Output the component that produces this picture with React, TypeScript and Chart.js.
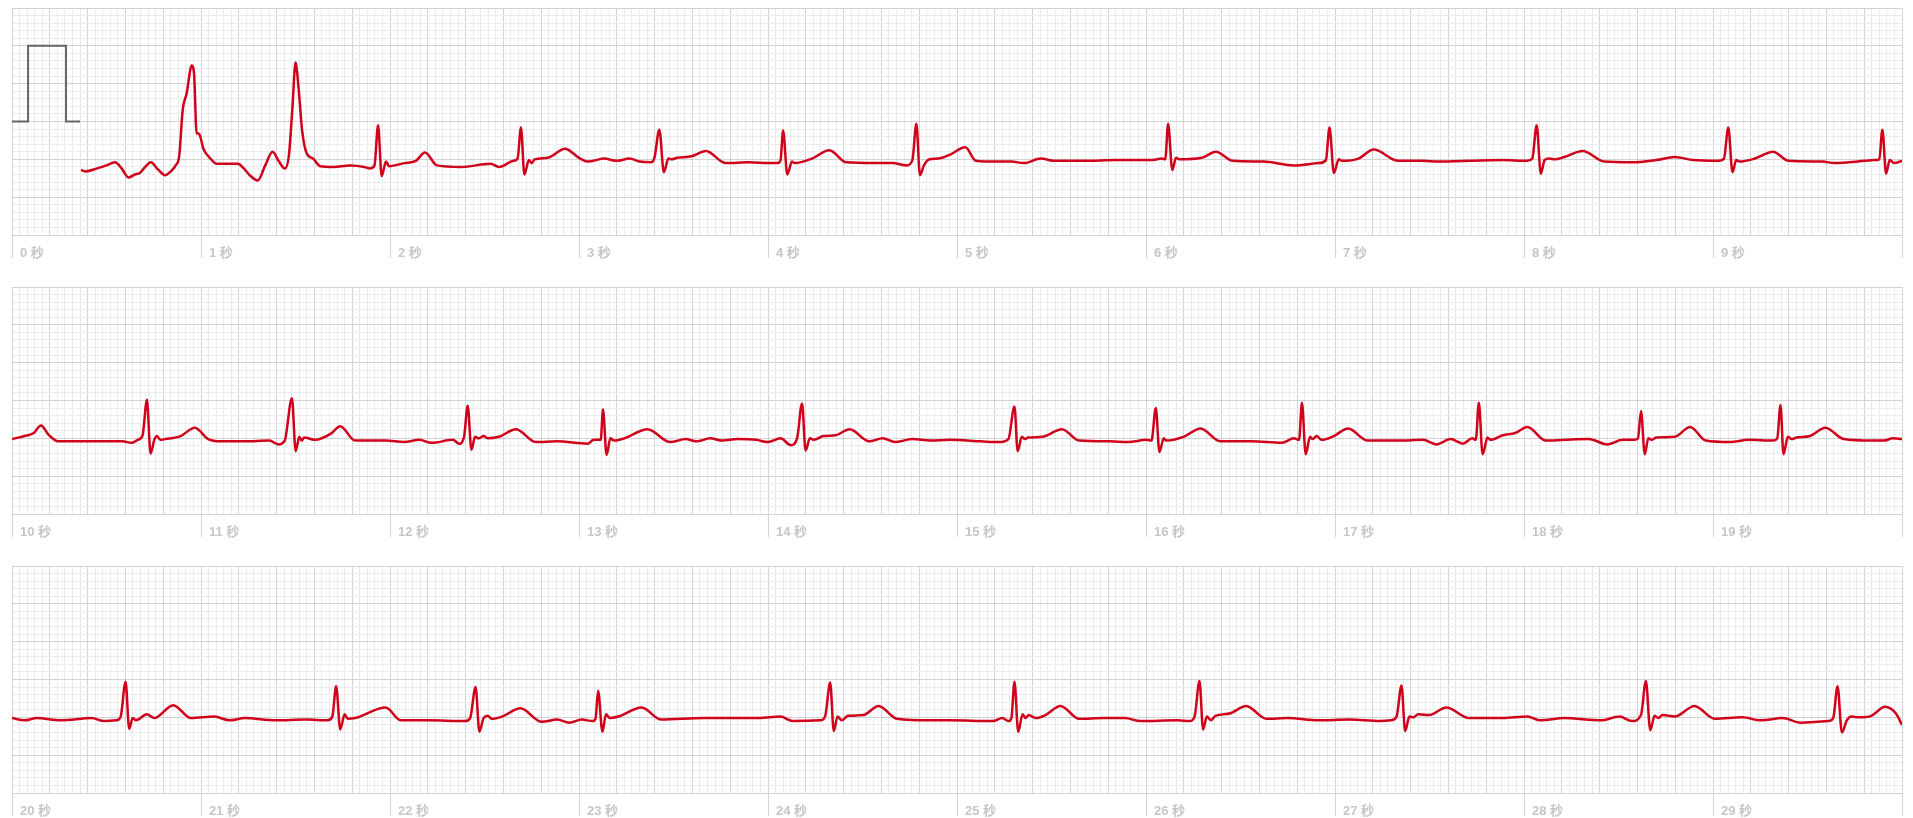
import React, { useEffect, useRef, useState } from "react";
import { Chart, registerables } from "chart.js";

Chart.register(...registerables);

// ---- data (time in seconds, amplitude in mV) ----
const secondsPerRow = 10;
const rowStarts = [0, 10, 20];

const calTime = [0, 0.085, 0.085, 0.286, 0.286, 0.36];
const calValue = [0, 0, 1, 1, 0, 0];

const row1Time = [
  0.365, 0.39, 0.45, 0.5, 0.545, 0.58, 0.616, 0.65, 0.677, 0.705, 0.734, 0.775, 0.81, 0.84, 0.866, 0.885,
  0.903, 0.924, 0.951, 0.963, 0.977, 0.988, 0.995, 1.013, 1.043, 1.085, 1.196, 1.226, 1.262, 1.3, 1.34,
  1.379, 1.41, 1.444, 1.465, 1.484, 1.5, 1.517, 1.535, 1.559, 1.593, 1.63, 1.7, 1.788, 1.864, 1.894,
  1.918, 1.937, 1.956, 1.979, 1.995, 2.076, 2.137, 2.185, 2.249, 2.377, 2.532, 2.577, 2.653, 2.675,
  2.693, 2.711, 2.735, 2.75, 2.765, 2.835, 2.926, 3.0, 3.048, 3.132, 3.2, 3.267, 3.321, 3.382, 3.4,
  3.425, 3.449, 3.473, 3.491, 3.519, 3.595, 3.671, 3.777, 3.899, 4.005, 4.05, 4.066, 4.08, 4.102, 4.127,
  4.141, 4.233, 4.324, 4.415, 4.566, 4.658, 4.734, 4.764, 4.785, 4.804, 4.825, 4.855, 4.9, 4.961,
  5.044, 5.1, 5.158, 5.288, 5.353, 5.444, 5.515, 5.678, 5.84, 6.035, 6.084, 6.102, 6.117, 6.139, 6.159,
  6.175, 6.295, 6.37, 6.458, 6.62, 6.783, 6.913, 6.952, 6.971, 6.994, 7.02, 7.036, 7.124, 7.205, 7.335,
  7.449, 7.563, 7.888, 8.018, 8.044, 8.067, 8.089, 8.109, 8.132, 8.164, 8.213, 8.31, 8.424, 8.57, 8.7,
  8.798, 8.895, 9.025, 9.058, 9.081, 9.103, 9.123, 9.139, 9.221, 9.318, 9.399, 9.578, 9.643, 9.806,
  9.854, 9.88, 9.896, 9.916, 9.935, 9.96, 10.0,
];
const row1Value = [
  -0.64, -0.66, -0.62, -0.58, -0.54, -0.62, -0.74, -0.7, -0.68, -0.6, -0.54, -0.64, -0.71, -0.66, -0.58, -0.45,
  0.15, 0.37, 0.74, 0.64, -0.16, -0.16, -0.19, -0.36, -0.47, -0.56, -0.56, -0.62, -0.72, -0.78, -0.58,
  -0.4, -0.52, -0.62, -0.45, 0.19, 0.78, 0.42, -0.12, -0.42, -0.49, -0.59, -0.6, -0.58, -0.6, -0.62,
  -0.58, -0.05, -0.72, -0.53, -0.59, -0.55, -0.52, -0.41, -0.58, -0.6, -0.56, -0.6, -0.52, -0.49,
  -0.08, -0.7, -0.51, -0.55, -0.5, -0.48, -0.36, -0.48, -0.53, -0.49, -0.52, -0.49, -0.53, -0.54, -0.47,
  -0.11, -0.67, -0.49, -0.5, -0.48, -0.46, -0.39, -0.55, -0.54, -0.55, -0.55, -0.52, -0.12, -0.7, -0.53,
  -0.55, -0.49, -0.38, -0.54, -0.55, -0.55, -0.58, -0.51, -0.03, -0.71, -0.58, -0.5, -0.49, -0.44,
  -0.34, -0.52, -0.53, -0.53, -0.55, -0.49, -0.52, -0.52, -0.51, -0.51, -0.49, -0.5, -0.03, -0.64, -0.48,
  -0.5, -0.48, -0.4, -0.52, -0.53, -0.58, -0.55, -0.51, -0.08, -0.68, -0.5, -0.52, -0.49, -0.37, -0.52,
  -0.52, -0.53, -0.51, -0.52, -0.49, -0.05, -0.69, -0.51, -0.49, -0.5, -0.47, -0.39, -0.53, -0.54, -0.51,
  -0.47, -0.51, -0.52, -0.49, -0.08, -0.67, -0.51, -0.53, -0.49, -0.4, -0.52, -0.53, -0.55, -0.52,
  -0.51, -0.5, -0.11, -0.69, -0.51, -0.55, -0.52,
];

const row2Time = [
  10.0, 10.066, 10.115, 10.153, 10.196, 10.244, 10.422, 10.584, 10.633, 10.665, 10.691, 10.714, 10.733,
  10.753, 10.766, 10.785, 10.811, 10.892, 10.967, 11.038, 11.103, 11.232, 11.362, 11.41, 11.443, 11.481,
  11.501, 11.52, 11.533, 11.546, 11.605, 11.686, 11.737, 11.815, 11.977, 12.074, 12.155, 12.22, 12.333,
  12.366, 12.392, 12.411, 12.431, 12.45, 12.469, 12.495, 12.518, 12.576, 12.667, 12.771, 12.884, 13.046,
  13.078, 13.115, 13.127, 13.146, 13.166, 13.185, 13.24, 13.363, 13.483, 13.564, 13.623, 13.694, 13.758,
  13.839, 13.937, 14.001, 14.066, 14.121, 14.154, 14.18, 14.199, 14.222, 14.244, 14.293, 14.358, 14.432,
  14.536, 14.607, 14.672, 14.763, 14.86, 14.963, 15.126, 15.223, 15.272, 15.304, 15.321, 15.343, 15.36,
  15.376, 15.451, 15.555, 15.646, 15.808, 15.906, 16.003, 16.029, 16.052, 16.071, 16.094, 16.107, 16.198,
  16.289, 16.393, 16.556, 16.718, 16.783, 16.81, 16.825, 16.845, 16.868, 16.881, 16.903, 16.929, 16.994,
  17.069, 17.173, 17.336, 17.466, 17.537, 17.612, 17.677, 17.726, 17.745, 17.761, 17.781, 17.807, 17.823,
  17.888, 17.953, 18.018, 18.116, 18.213, 18.343, 18.441, 18.522, 18.577, 18.603, 18.619, 18.639, 18.658,
  18.674, 18.701, 18.798, 18.879, 18.961, 19.091, 19.188, 19.318, 19.34, 19.357, 19.373, 19.396, 19.416,
  19.442, 19.513, 19.594, 19.692, 19.838, 19.903, 19.952, 20.0,
];
const row2Value = [
  -0.51, -0.47, -0.43, -0.33, -0.46, -0.54, -0.54, -0.54, -0.56, -0.52, -0.46, 0.01, -0.7,
  -0.52, -0.47, -0.52, -0.51, -0.47, -0.36, -0.51, -0.54, -0.54, -0.53, -0.58, -0.53, 0.03,
  -0.67, -0.48, -0.53, -0.49, -0.52, -0.44, -0.34, -0.53, -0.53, -0.55, -0.52, -0.56, -0.52,
  -0.57, -0.48, -0.07, -0.65, -0.48, -0.5, -0.47, -0.5, -0.48, -0.38, -0.55, -0.54, -0.57,
  -0.52, -0.52, -0.12, -0.72, -0.5, -0.53, -0.5, -0.38, -0.55, -0.51, -0.54, -0.5, -0.53,
  -0.51, -0.52, -0.55, -0.5, -0.59, -0.5, -0.04, -0.66, -0.5, -0.52, -0.47, -0.46, -0.38,
  -0.54, -0.5, -0.55, -0.51, -0.53, -0.52, -0.54, -0.55, -0.51, -0.08, -0.67, -0.48, -0.51,
  -0.49, -0.48, -0.38, -0.53, -0.54, -0.55, -0.52, -0.53, -0.1, -0.68, -0.5, -0.53, -0.48,
  -0.37, -0.54, -0.54, -0.56, -0.5, -0.52, -0.03, -0.71, -0.48, -0.51, -0.47, -0.52, -0.47,
  -0.37, -0.53, -0.53, -0.52, -0.58, -0.51, -0.57, -0.5, -0.52, -0.03, -0.71, -0.49, -0.52,
  -0.46, -0.43, -0.35, -0.53, -0.52, -0.51, -0.58, -0.52, -0.52, -0.5, -0.14, -0.71, -0.5,
  -0.52, -0.49, -0.48, -0.35, -0.53, -0.55, -0.52, -0.53, -0.5, -0.06, -0.71, -0.48, -0.51,
  -0.49, -0.47, -0.36, -0.51, -0.53, -0.53, -0.5, -0.51,
];

const row3Time = [
  20.0, 20.066, 20.131, 20.26, 20.422, 20.487, 20.552, 20.575, 20.601, 20.62, 20.639, 20.656, 20.714,
  20.753, 20.853, 20.947, 21.07, 21.151, 21.232, 21.394, 21.556, 21.67, 21.695, 21.715, 21.737, 21.76,
  21.776, 21.815, 21.977, 22.058, 22.204, 22.398, 22.424, 22.453, 22.473, 22.495, 22.518, 22.537, 22.593,
  22.69, 22.803, 22.884, 22.949, 23.014, 23.072, 23.088, 23.101, 23.124, 23.143, 23.163, 23.208, 23.331,
  23.435, 23.661, 23.953, 24.066, 24.131, 24.277, 24.303, 24.329, 24.348, 24.368, 24.39, 24.423, 24.504,
  24.585, 24.682, 24.86, 24.963, 25.19, 25.239, 25.272, 25.288, 25.304, 25.324, 25.347, 25.363, 25.379,
  25.418, 25.467, 25.548, 25.646, 25.776, 25.889, 25.971, 26.166, 26.231, 26.257, 26.283, 26.302, 26.322,
  26.344, 26.367, 26.442, 26.53, 26.637, 26.751, 26.913, 27.076, 27.238, 27.297, 27.326, 27.352, 27.371,
  27.394, 27.414, 27.44, 27.498, 27.589, 27.709, 27.888, 28.018, 28.083, 28.213, 28.408, 28.505, 28.571,
  28.619, 28.645, 28.668, 28.691, 28.71, 28.733, 28.798, 28.902, 29.009, 29.155, 29.253, 29.367, 29.464,
  29.61, 29.636, 29.659, 29.682, 29.708, 29.734, 29.773, 29.838, 29.91, 29.968, 30.0,
];
const row3Value = [
  -0.51, -0.54, -0.51, -0.54, -0.51, -0.55, -0.54, -0.49, -0.03, -0.65, -0.51, -0.54, -0.46,
  -0.51, -0.34, -0.51, -0.49, -0.54, -0.51, -0.54, -0.53, -0.54, -0.49, -0.09, -0.66, -0.46,
  -0.52, -0.51, -0.37, -0.54, -0.54, -0.55, -0.51, -0.1, -0.69, -0.51, -0.48, -0.52, -0.49,
  -0.38, -0.56, -0.53, -0.57, -0.53, -0.55, -0.51, -0.15, -0.69, -0.46, -0.51, -0.49, -0.37,
  -0.53, -0.51, -0.51, -0.49, -0.55, -0.54, -0.48, -0.04, -0.68, -0.49, -0.54, -0.48, -0.47,
  -0.35, -0.52, -0.54, -0.54, -0.55, -0.51, -0.55, -0.51, -0.03, -0.69, -0.46, -0.51, -0.47,
  -0.51, -0.47, -0.35, -0.52, -0.51, -0.51, -0.55, -0.54, -0.55, -0.49, -0.02, -0.66, -0.49,
  -0.54, -0.48, -0.45, -0.35, -0.52, -0.51, -0.54, -0.53, -0.55, -0.54, -0.49, -0.08, -0.68,
  -0.49, -0.5, -0.46, -0.47, -0.37, -0.51, -0.51, -0.49, -0.54, -0.51, -0.54, -0.49, -0.55,
  -0.47, -0.02, -0.67, -0.48, -0.51, -0.47, -0.49, -0.35, -0.52, -0.5, -0.54, -0.51, -0.57,
  -0.55, -0.51, -0.09, -0.7, -0.54, -0.49, -0.5, -0.48, -0.36, -0.45, -0.6,
];

const rowTimes = [row1Time, row2Time, row3Time];
const rowValues = [row1Value, row2Value, row3Value];

const yMin = -1.5;
const yMax = 1.5;
const secondUnit = "秒";

// ---- styling ----
const MAJOR = "#d3d3d3";
const MINOR = "#ececec";
const TRACE = "#d0021b";
const CAL = "#666666";
const LABEL = "#c6c6c6";
const CANVAS_H = 262;
const PLOT_H = 227;
const ROW_STEP = 279;

function RowChart({ row }: { row: number }) {
  const ref = useRef<HTMLCanvasElement | null>(null);
  const [err, setErr] = useState("");
  useEffect(() => {
    if (!ref.current) return;
    let chart: any = null;
    try {
      const xMin = rowStarts[row];
      const xMax = xMin + secondsPerRow;
      const times = rowTimes[row];
      const vals = rowValues[row];
      const datasets: any[] = [
        {
          data: times.map((t, i) => ({ x: t, y: vals[i] })),
          borderColor: TRACE,
          borderWidth: 2.5,
          pointRadius: 0,
          fill: false,
          cubicInterpolationMode: "monotone",
          borderJoinStyle: "round",
        },
      ];
      if (row === 0) {
        datasets.push({
          data: calTime.map((t, i) => ({ x: t, y: calValue[i] })),
          borderColor: CAL,
          borderWidth: 2,
          pointRadius: 0,
          fill: false,
        });
      }
      const nX = Math.round(secondsPerRow / 0.04);
      const nY = Math.round((yMax - yMin) / 0.1);
      chart = new Chart(ref.current, {
        type: "line",
        data: { datasets },
        options: {
          animation: false,
          responsive: true,
          maintainAspectRatio: false,
          layout: { padding: { left: 4, right: 3, top: 0, bottom: 0 } },
          plugins: { legend: { display: false }, tooltip: { enabled: false } },
          scales: {
            x: {
              type: "linear",
              min: xMin,
              max: xMax,
              afterBuildTicks: (s: any) => {
                s.ticks = Array.from({ length: nX + 1 }, (_, i) => ({ value: xMin + i * 0.04 }));
              },
              afterFit: (s: any) => {
                s.height = CANVAS_H - PLOT_H;
              },
              grid: {
                color: (ctx: any) => (ctx.index % 5 === 0 ? MAJOR : MINOR),
                lineWidth: 1,
                tickLength: 23,
                tickColor: (ctx: any) => (ctx.index % 25 === 0 ? MAJOR : "rgba(0,0,0,0)"),
              },
              border: { color: MAJOR },
              ticks: {
                autoSkip: false,
                maxRotation: 0,
                minRotation: 0,
                align: "start",
                labelOffset: 8,
                padding: -12,
                color: LABEL,
                font: {
                  size: 13,
                  weight: "bold",
                  family: "'Helvetica Neue', Helvetica, Arial, 'Noto Sans CJK SC', sans-serif",
                },
                callback: (_v: any, i: number) =>
                  i % 25 === 0 && i < nX ? `${xMin + i / 25} ${secondUnit}` : "",
              },
            },
            y: {
              type: "linear",
              min: yMin,
              max: yMax,
              afterBuildTicks: (s: any) => {
                s.ticks = Array.from({ length: nY + 1 }, (_, i) => ({ value: yMin + i * 0.1 }));
              },
              afterFit: (s: any) => {
                s.width = 0;
              },
              grid: {
                color: (ctx: any) => (ctx.index % 5 === 0 ? MAJOR : MINOR),
                lineWidth: 1,
                drawTicks: false,
              },
              border: { color: MAJOR },
              ticks: { display: false },
            },
          },
        } as any,
      });
    } catch (e: any) {
      setErr(String(e && e.stack ? e.stack : e));
    }
    return () => {
      if (chart) chart.destroy();
    };
  }, [row]);
  return (
    <div
      style={{
        position: "absolute",
        left: 8,
        width: 1897,
        top: 8 + row * ROW_STEP,
        height: CANVAS_H,
      }}
    >
      <canvas ref={ref} />
      {err ? (
        <pre style={{ position: "absolute", top: 0, left: 0, color: "black", fontSize: 12 }}>{err}</pre>
      ) : null}
    </div>
  );
}

export default function App() {
  return (
    <div style={{ position: "fixed", left: 0, top: 0, width: "100vw", height: "100vh", overflow: "hidden" }}>
      {[0, 1, 2].map((r) => (
        <RowChart key={r} row={r} />
      ))}
    </div>
  );
}
